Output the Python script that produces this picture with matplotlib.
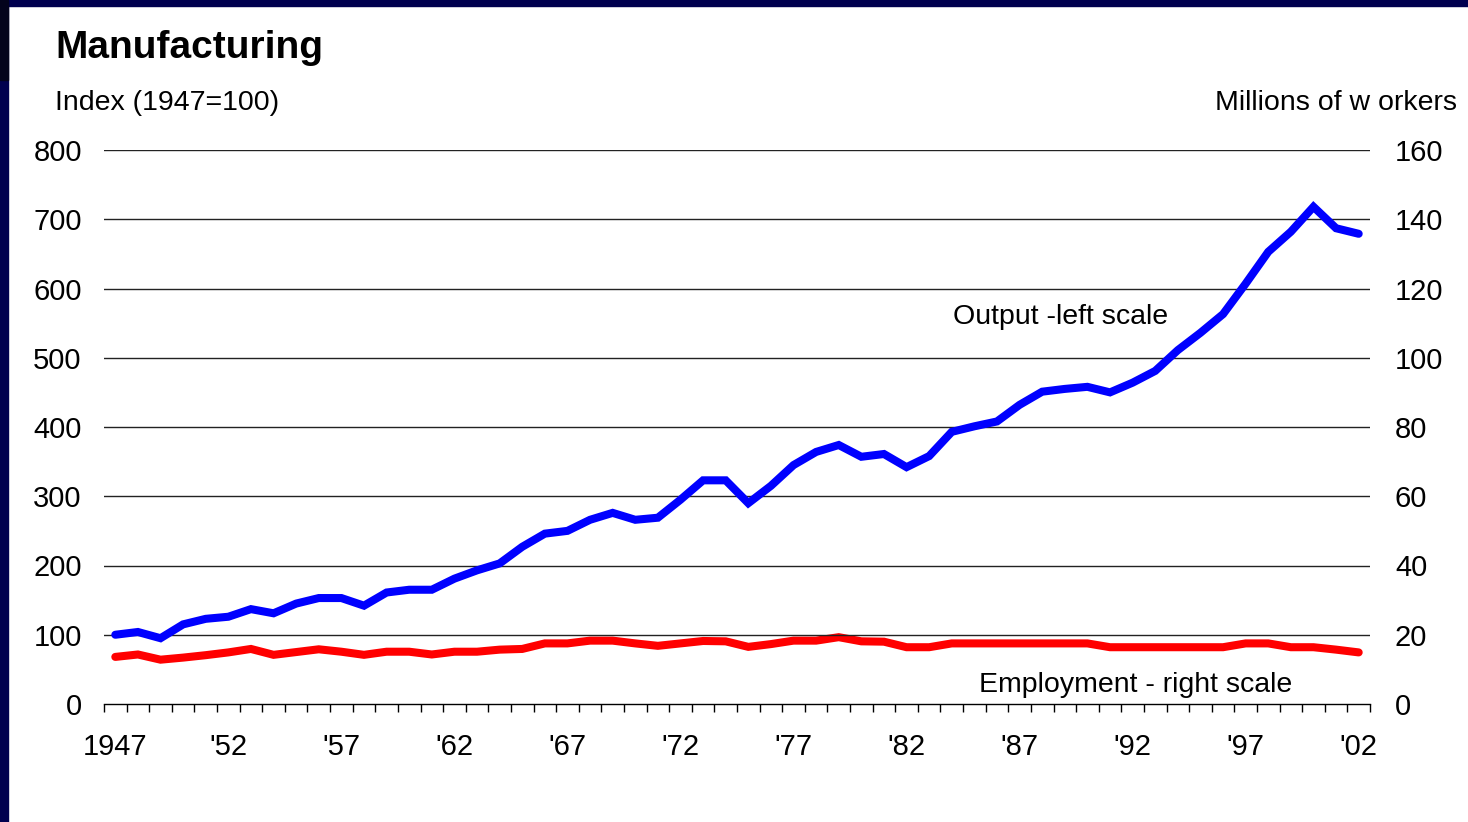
import numpy as np
import matplotlib
matplotlib.use("Agg")
import matplotlib.pyplot as plt
from matplotlib.patches import Rectangle

# === DATA ===
years = list(range(1947, 2003))

# output index, 1947=100 (left scale)
output_index = [
    100, 104, 95, 115, 123, 126, 137, 131, 145, 153,
    153, 142, 161, 165, 165, 181, 193, 203, 227, 246,
    250, 266, 276, 266, 269, 295, 323, 323, 290, 315,
    345, 364, 374, 357, 361, 342, 358, 393, 401, 408,
    432, 451, 455, 458, 450, 464, 481, 511, 536, 563,
    607, 653, 682, 718, 687, 679,
]

# employment, millions of workers (right scale)
employment = [
    13.6, 14.3, 12.8, 13.4, 14.1, 14.9, 15.9, 14.2, 15.0, 15.8,
    15.1, 14.2, 15.1, 15.1, 14.3, 15.1, 15.1, 15.7, 15.9, 17.5,
    17.5, 18.3, 18.3, 17.5, 16.8, 17.5, 18.2, 18.1, 16.5, 17.3,
    18.3, 18.3, 19.3, 18.1, 18.0, 16.4, 16.4, 17.5, 17.5, 17.5,
    17.5, 17.5, 17.5, 17.5, 16.4, 16.4, 16.4, 16.4, 16.4, 16.4,
    17.5, 17.5, 16.4, 16.4, 15.7, 14.9,
]

left_ticks = list(range(0, 801, 100))
right_ticks = list(range(0, 161, 20))
label_years = [1947, 1952, 1957, 1962, 1967, 1972, 1977, 1982, 1987, 1992, 1997, 2002]
label_text = ["1947", "'52", "'57", "'62", "'67", "'72", "'77", "'82", "'87", "'92", "'97", "'02"]

# === STYLE ===
plt.rcParams['font.family'] = ['Liberation Sans', 'DejaVu Sans']
W, H = 1468, 822
fig = plt.figure(figsize=(W / 100, H / 100), dpi=100, facecolor="white")

# navy frame strips at top / left
fig.patches.append(Rectangle((0, 1 - 6 / H), 1, 6 / H, transform=fig.transFigure,
                             color="#00004f", zorder=0))
fig.patches.append(Rectangle((0, 0), 8 / W, 1, transform=fig.transFigure,
                             color="#00004f", zorder=0))
fig.patches.append(Rectangle((0, 1 - 80 / H), 8 / W, 80 / H, transform=fig.transFigure,
                             color="#03031c", zorder=0))

ax = fig.add_axes([104 / W, 1 - 704 / H, (1370 - 104) / W, (704 - 150) / H])
ax2 = ax.twinx()

ax.set_ylim(0, 800)
ax2.set_ylim(0, 160)
ax.set_xlim(1946.5, 2002.5)

# gridlines (one per left tick, skipping 0 which is the axis)
for v in left_ticks[1:]:
    ax.axhline(v, color="#222222", lw=1.0, zorder=1)

ax2.plot(years, employment, color="#ff0000", lw=5.8, solid_capstyle="round",
         solid_joinstyle="miter", zorder=3)
ax.plot(years, output_index, color="#0000ff", lw=5.8, solid_capstyle="round",
        solid_joinstyle="miter", zorder=3)
ax.set_zorder(ax2.get_zorder() + 1)
ax.patch.set_visible(False)

for a in (ax, ax2):
    for s in ("top", "left", "right"):
        a.spines[s].set_visible(False)
ax2.spines["bottom"].set_visible(False)
ax.spines["bottom"].set_color("black")
ax.spines["bottom"].set_linewidth(1.0)

# y ticks
ax.set_yticks(left_ticks)
ax.set_yticklabels([str(v) for v in left_ticks])
ax.tick_params(axis="y", length=0, pad=16, labelsize=21)
ax2.set_yticks(right_ticks)
ax2.set_yticklabels([str(v) for v in right_ticks])
ax2.tick_params(axis="y", length=0, pad=18, labelsize=21)

# x ticks: marks at category boundaries, labels at centres
ax.set_xticks(np.arange(1946.5, 2003, 1.0))
ax.set_xticklabels([])
ax.tick_params(axis="x", which="major", direction="out", length=6, width=1, color="black")
ax.set_xticks(label_years, minor=True)
ax.set_xticklabels(label_text, minor=True)
ax.tick_params(axis="x", which="minor", length=0, pad=21, labelsize=21)

# texts
fig.text(55 / W, 1 - 48 / H, "Manufacturing", fontsize=28, fontweight="bold",
         va="center", ha="left")
fig.text(55 / W, 1 - 103 / H, "Index (1947=100)", fontsize=20.5, va="center", ha="left")
fig.text(1457 / W, 1 - 103 / H, "Millions of w orkers", fontsize=20.5, va="center", ha="right")
ax.text(1061 / W, 1 - 317 / H, "Output -left scale", transform=fig.transFigure,
        fontsize=20.5, va="center", ha="center")
ax.text(1136 / W, 1 - 685 / H, "Employment - right scale", transform=fig.transFigure,
        fontsize=20.5, va="center", ha="center")

fig.savefig("out.png", dpi=100, facecolor="white")
